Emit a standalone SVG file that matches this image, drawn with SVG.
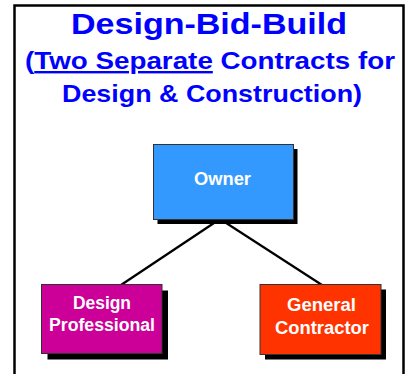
<svg xmlns="http://www.w3.org/2000/svg" width="412" height="374" viewBox="0 0 412 374">
<style>
.title{font-family:"Liberation Sans",Arial,sans-serif;font-weight:bold;fill:#0000FF;text-anchor:middle}
.lbl{font-family:"Liberation Sans",Arial,sans-serif;font-weight:bold;fill:#FFFFFF;text-anchor:middle}
.box{stroke:#333333;stroke-width:1}
.shadow{fill:#000000}
.conn{stroke:#000000;stroke-width:2.2;fill:none}
</style>
<rect x="0" y="0" width="412" height="374" fill="#FFFFFF"/>
<path d="M14.5,380 V5.5 H403.5 V380" fill="none" stroke="#000000" stroke-width="2.5"/>
<g id="title">
<text class="title" x="209" y="34" font-size="30" textLength="276" lengthAdjust="spacingAndGlyphs">Design-Bid-Build</text>
<text class="title" x="210" y="69" font-size="24" textLength="370" lengthAdjust="spacingAndGlyphs">(<tspan text-decoration="underline">Two Separate</tspan> Contracts for</text>
<text class="title" x="212" y="102" font-size="24" textLength="300" lengthAdjust="spacingAndGlyphs">Design &amp; Construction)</text>
</g>
<g id="connectors">
<line class="conn" x1="220" y1="219" x2="121" y2="285"/>
<line class="conn" x1="220" y1="219" x2="322" y2="285"/>
</g>
<g id="owner">
<rect class="shadow" x="157.5" y="149" width="140" height="75"/>
<rect class="box" x="153.5" y="144.5" width="140" height="75" fill="#3399FF"/>
<text class="lbl" x="222.5" y="184.5" font-size="19" textLength="57" lengthAdjust="spacingAndGlyphs">Owner</text>
</g>
<g id="design-professional">
<rect class="shadow" x="47.5" y="290.5" width="120.5" height="69"/>
<rect class="box" x="41.5" y="284.5" width="120.5" height="69" fill="#CC0099"/>
<text class="lbl" x="102" y="308.5" font-size="17.5" textLength="58" lengthAdjust="spacingAndGlyphs">Design</text>
<text class="lbl" x="102" y="331" font-size="17.5" textLength="106" lengthAdjust="spacingAndGlyphs">Professional</text>
</g>
<g id="general-contractor">
<rect class="shadow" x="265" y="289.5" width="121" height="70"/>
<rect class="box" x="260" y="284.5" width="121" height="70" fill="#FF3300"/>
<text class="lbl" x="321.5" y="310.5" font-size="17.5" textLength="69" lengthAdjust="spacingAndGlyphs">General</text>
<text class="lbl" x="322" y="334" font-size="17.5" textLength="94" lengthAdjust="spacingAndGlyphs">Contractor</text>
</g>
</svg>
